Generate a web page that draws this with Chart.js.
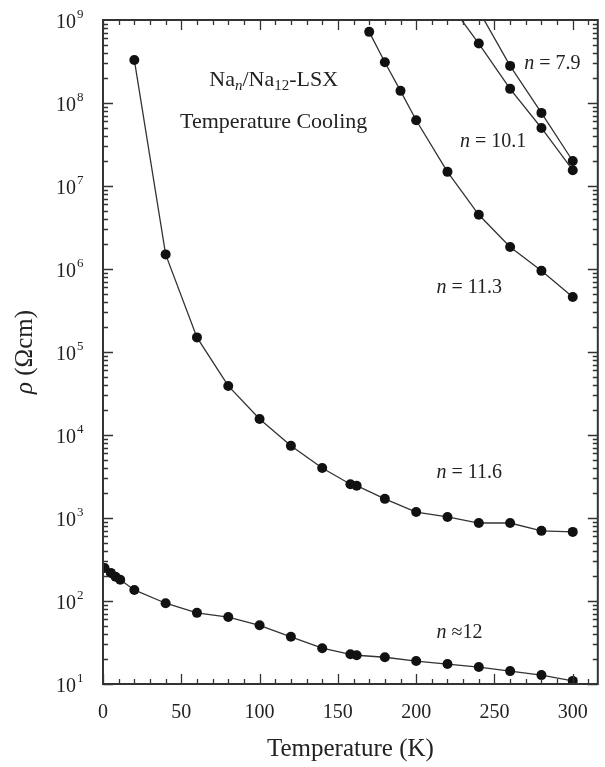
<!DOCTYPE html>
<html>
<head>
<meta charset="utf-8">
<script src="https://cdn.jsdelivr.net/npm/chart.js@4.4.1/dist/chart.umd.min.js"></script>
<style>
  html, body { margin: 0; padding: 0; background: #fff; }
</style>
</head>
<body>
<canvas id="rhoChart" width="605" height="767"></canvas>
<script>
// resistivity vs temperature, Na_n/Na_12-LSX, cooling runs
const tempN79 = [240, 260, 280, 300];
const rhoN79 = [1.3e9, 2.8e8, 7.6e7, 2.0e7];

const tempN101 = [220, 240, 260, 280, 300];
const rhoN101 = [1.7e9, 5.2e8, 1.48e8, 5.0e7, 1.55e7];

const tempN113 = [170, 180, 190, 200, 220, 240, 260, 280, 300];
const rhoN113 = [7.2e8, 3.1e8, 1.4e8, 6.2e7, 1.48e7, 4.5e6, 1.84e6, 9.5e5, 4.6e5];

const tempN116 = [20, 40, 60, 80, 100, 120, 140, 158, 162, 180, 200, 220, 240, 260, 280, 300];
const rhoN116 = [3.3e8, 1.5e6, 1.5e5, 3.9e4, 1.56e4, 7.4e3, 4.0e3, 2.55e3, 2.45e3, 1.7e3, 1.18e3, 1.03e3, 870, 870, 700, 680];

const tempN12 = [1, 5, 8, 11, 20, 40, 60, 80, 100, 120, 140, 158, 162, 180, 200, 220, 240, 260, 280, 300];
const rhoN12 = [250, 218, 196, 180, 136, 94, 72, 64, 51, 37, 27, 22.8, 22.2, 21, 18.9, 17.4, 16, 14.3, 12.8, 10.9];

const xTickValues = [0, 50, 100, 150, 200, 250, 300];
const yDecades = [1, 2, 3, 4, 5, 6, 7, 8, 9];

// curve labels, placed in data coordinates
const curveLabels = [
  { n: 'n', rest: ' = 7.9', t: 269, rho: 3.0e8 },
  { n: 'n', rest: ' = 10.1', t: 228, rho: 3.4e7 },
  { n: 'n', rest: ' = 11.3', t: 213, rho: 6.0e5 },
  { n: 'n', rest: ' = 11.6', t: 213, rho: 3.5e3 },
  { n: 'n', rest: ' \u224812', t: 213, rho: 42 }
];

const serif = '"Liberation Serif", "Times New Roman", serif';
const ink = '#222';

function toPoints(xs, ys) {
  return xs.map((x, i) => ({ x, y: ys[i] }));
}

function series(xs, ys) {
  return {
    data: toPoints(xs, ys),
    borderColor: '#333',
    borderWidth: 1.3,
    pointRadius: 5,
    pointBackgroundColor: '#111',
    pointBorderColor: '#111',
    pointBorderWidth: 0,
    tension: 0,
    fill: false
  };
}

function drawRuns(ctx, runs, x, y, align) {
  let total = 0;
  runs.forEach(r => { ctx.font = r.font; total += ctx.measureText(r.text).width; });
  let cx = align === 'center' ? x - total / 2 : x;
  ctx.textAlign = 'left';
  ctx.textBaseline = 'middle';
  runs.forEach(r => {
    ctx.font = r.font;
    ctx.fillText(r.text, cx, y + (r.dy || 0));
    cx += ctx.measureText(r.text).width;
  });
}

const frameAndLabels = {
  id: 'frameAndLabels',
  afterDraw(chart) {
    const { ctx, chartArea: a, scales: { x, y } } = chart;
    ctx.save();
    ctx.strokeStyle = '#333';

    // inward ticks on all four sides
    ctx.lineWidth = 1.3;
    ctx.beginPath();
    for (let v = 0; v <= x.max; v += 10) {
      const px = Math.round(x.getPixelForValue(v)) + 0.5;
      const len = v % 50 === 0 ? 10 : 5;
      ctx.moveTo(px, a.bottom); ctx.lineTo(px, a.bottom - len);
      ctx.moveTo(px, a.top); ctx.lineTo(px, a.top + len);
    }
    for (let d = 1; d < 9; d++) {
      for (let m = 1; m <= 9; m++) {
        const v = m * Math.pow(10, d);
        const py = Math.round(y.getPixelForValue(v)) + 0.5;
        const len = m === 1 ? 10 : 5;
        ctx.moveTo(a.left, py); ctx.lineTo(a.left + len, py);
        ctx.moveTo(a.right, py); ctx.lineTo(a.right - len, py);
      }
    }
    ctx.stroke();

    // frame
    ctx.lineWidth = 2;
    ctx.strokeRect(a.left, a.top, a.right - a.left, a.bottom - a.top);

    // y tick labels 10^n
    ctx.fillStyle = ink;
    yDecades.forEach(d => {
      const py = y.getPixelForValue(Math.pow(10, d));
      ctx.font = '20px ' + serif;
      ctx.textAlign = 'right';
      ctx.textBaseline = 'middle';
      ctx.fillText('10', 76, py + 3);
      ctx.font = '13px ' + serif;
      ctx.textAlign = 'left';
      ctx.fillText(String(d), 77, py - 5);
    });

    // y title
    ctx.save();
    ctx.translate(25, (a.top + a.bottom) / 2);
    ctx.rotate(-Math.PI / 2);
    drawRuns(ctx, [
      { text: '\u03c1', font: 'italic 25px ' + serif },
      { text: ' (\u03a9cm)', font: '25px ' + serif }
    ], 0, 0, 'center');
    ctx.restore();

    // title block
    const tx = x.getPixelForValue(109);
    drawRuns(ctx, [
      { text: 'Na', font: '22px ' + serif },
      { text: 'n', font: 'italic 15px ' + serif, dy: 6 },
      { text: '/Na', font: '22px ' + serif },
      { text: '12', font: '15px ' + serif, dy: 6 },
      { text: '-LSX', font: '22px ' + serif }
    ], tx, y.getPixelForValue(1.9e8), 'center');
    drawRuns(ctx, [{ text: 'Temperature Cooling', font: '22px ' + serif }],
      tx, y.getPixelForValue(5.9e7), 'center');

    // curve labels
    curveLabels.forEach(l => {
      drawRuns(ctx, [
        { text: l.n, font: 'italic 20px ' + serif },
        { text: l.rest, font: '20px ' + serif }
      ], x.getPixelForValue(l.t), y.getPixelForValue(l.rho), 'left');
    });

    ctx.restore();
  }
};

new Chart(document.getElementById('rhoChart').getContext('2d'), {
  type: 'line',
  data: {
    datasets: [
      series(tempN79, rhoN79),
      series(tempN101, rhoN101),
      series(tempN113, rhoN113),
      series(tempN116, rhoN116),
      series(tempN12, rhoN12)
    ]
  },
  options: {
    responsive: false,
    animation: false,
    layout: { padding: { left: 0, top: 20, right: 3, bottom: 0 } },
    plugins: { legend: { display: false }, tooltip: { enabled: false } },
    scales: {
      x: {
        type: 'linear',
        min: 0,
        max: 316,
        grid: { display: false, drawTicks: false },
        border: { display: false },
        afterBuildTicks: s => { s.ticks = xTickValues.map(v => ({ value: v })); },
        afterFit: s => { s.height = 83; },
        ticks: {
          autoSkip: false,
          maxRotation: 0,
          padding: 17,
          color: ink,
          font: { family: serif, size: 20 }
        },
        title: {
          display: true,
          text: 'Temperature (K)',
          color: ink,
          font: { family: serif, size: 25 },
          padding: { top: 0, bottom: 3 }
        }
      },
      y: {
        type: 'logarithmic',
        min: 10,
        max: 1e9,
        grid: { display: false, drawTicks: false },
        border: { display: false },
        ticks: { display: false },
        afterFit: s => { s.width = 103; }
      }
    }
  },
  plugins: [frameAndLabels]
});
</script>
</body>
</html>
